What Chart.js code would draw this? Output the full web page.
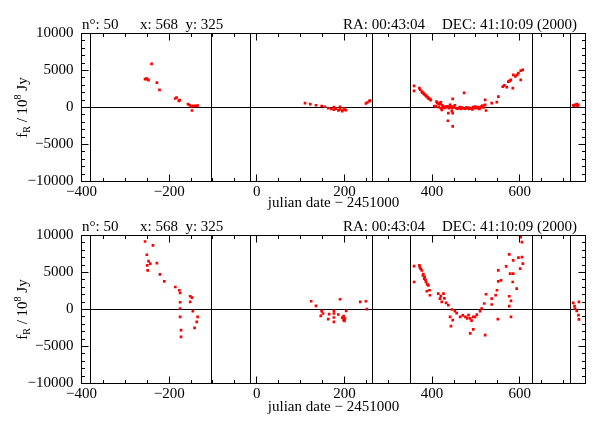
<!DOCTYPE html>
<html><head><meta charset="utf-8">
<script src="https://cdn.jsdelivr.net/npm/chart.js@4"></script>
<style>
html,body{margin:0;padding:0;background:#fff;}
#wrap{position:relative;width:606px;height:424px;}
canvas{position:absolute;left:0;}
</style></head><body>
<div id="wrap">
<canvas id="cTop" width="606" height="212" style="top:0"></canvas>
<canvas id="cBot" width="606" height="222" style="top:202px"></canvas>
</div>
<script>
// ---------- data ----------
const titleLeft1 = "n°: 50";
const titleLeft2 = "x: 568  y: 325";
const titleRight1 = "RA: 00:43:04";
const titleRight2 = "DEC: 41:10:09 (2000)";
const xAxisTitle = "julian date − 2451000";

const xTickLabels = [-400, -200, 0, 200, 400, 600];
const yTickLabels = [-10000, -5000, 0, 5000, 10000];
const seasonLines = [-379, -103, -14, 263, 351, 628, 716];

// top panel
const topJD = [
 -255,-252,-250,-247,-240,-228,-222,-186,-183,-178,-176,-157,-150,-145,-141,-137,-135,-148,-153,
 110,122,135,148,155,163,170,176,180,186,190,195,198,200,203,176,190,
 249,252,257,258.5,
 359,359,371,373,376.5,378,380,382,384,386,388,390,391.5,393,395.4,397,
 410,412,414.3,416,418.2,420,422.1,423,425,
 405,408,415,420,425,428,430,433,437,438,440,441,443,445,446,447,448.6,450,452,455,458,
 462,463.8,466,468,470,473,475,478,479,482,484,485,488,490.5,492,494,496,498,500,502,504,506,508,509.5,512,513,515,517,
 521,521,523,
 437,447,436,447,
 536,547.6,551.2,561.3,565,570.4,574,577,579.5,584.1,585.4,590,594,596.9,602.3,602.3,606.9,
 722,724,726,728,730,732,733.7
];
const topFlux = [
 3830,3900,3830,3690,5890,3370,2385,1213,1348,903,1000,458,135,229,200,229,270,-404,300,
 600,450,300,200,100,-100,-200,-300,-150,-400,-250,-500,-300,-100,-350,50,100,
 539,674,863,943,
 2925,2250,2615,2400,2156,2000,1940,1800,1712,1600,1482,1350,1267,1200,1132,1000,
 800,600,593,500,458,700,-310,300,200,
 200,150,50,-100,0,50,-50,150,135,-100,0,364,100,-445,-50,1172,135,0,300,-100,-150,
 -50,54,-200,0,-100,1981,-150,0,-81,0,-200,-150,-100,-81,-250,50,-50,135,-100,0,50,-100,-200,0,100,135,250,0,
 1038,364,-404,
 -755,-755,-1792,-2561,
 593,728,1482,2830,3000,2749,3504,3600,3733,2615,4407,4200,4400,4636,4987,3733,5081,
 300,250,364,300,458,200,364
];

// bottom panel
const botJD = [
 -255,-237,-251,-247,-243,-250,-228,-249,-221,-211,-186,-177,-175,-152,-148,-175,-152,-175,-146,-135,-137,-142,-175,-173,-173,
 124,135,190,148,151,146,163,165,176,176,176,176,186,198,201,200,204,198,195,200,236,249,251,
 359,359,371,372,374,376.5,379,380,382,383,385,386,388,389,391.5,394,395,
 414,418,420,422,426,428,432,437,445,441,447,443,452,456,
 464,470,476,480,483,487,490,494,487,494,498,502,
 509.5,513,519,523,
 536,536,545,548,550,551,551,557,521,
 569,576,576,576,578,580,580,584,585,585,593,597,601,602,605,605,607,
 722,726,730,735,734,735,725
];
const botFlux = [
 9193,8654,7402,6541,6191,5962,6272,5289,4751,3809,3042,2598,2234,1790,1615,983,1023,135,-229,-996,-1669,-2476,-996,-2786,-3688,
 1117,485,1386,-229,-538,-861,-1305,-633,-188,-538,-1077,-1669,-673,-902,-1211,-1534,-188,-1440,-1100,-1300,1023,1117,40,
 5868,3715,5962,5700,5500,5289,4616,4800,4172,4400,4000,3715,2463,3400,3271,2598,1925,
 2153,1480,1800,1023,2153,1500,900,579,0,-996,-1440,-2248,-229,-500,
 -996,-800,-1000,-1200,-767,-1211,-1500,-996,-3230,-2692,-1000,-700,
 -229,135,808,2059,
 1480,673,1925,2598,-1305,5289,3809,3943,-3459,
 5828,7443,1790,444,4845,1157,-996,3715,6635,4845,2826,6999,5518,9771,9098,7079,6191,
 888,135,-188,1023,-767,-1346,444
];

// ---------- drawing ----------
const FONT = '"Liberation Serif", "Times New Roman", serif';
const FS = 15;

function fmt(v){ return String(v).replace('-', '\u2212'); }

const framePlugin = {
  id: 'frame',
  beforeDatasetsDraw(chart){
    const {ctx, chartArea:a, scales:{x, y}} = chart;
    ctx.save();
    ctx.strokeStyle = '#000'; ctx.lineWidth = 1;
    ctx.beginPath();
    const py0 = Math.floor(y.getPixelForValue(0)) + 0.5;
    ctx.moveTo(a.left, py0); ctx.lineTo(a.right, py0);
    seasonLines.forEach(d => {
      const px = Math.floor(x.getPixelForValue(d)) + 0.5;
      ctx.moveTo(px, a.top); ctx.lineTo(px, a.bottom);
    });
    ctx.stroke();
    ctx.restore();
  },
  afterDatasetsDraw(chart){
    const {ctx, chartArea:a, scales:{x, y}} = chart;
    ctx.save();
    ctx.strokeStyle = '#000'; ctx.lineWidth = 1;
    ctx.strokeRect(a.left, a.top, a.right - a.left, a.bottom - a.top);
    ctx.beginPath();
    for (let v = -400; v <= 750; v += 50) {
      const px = Math.floor(x.getPixelForValue(v)) + 0.5;
      const L = (v % 200 === 0) ? 7 : 3.5;
      ctx.moveTo(px, a.bottom); ctx.lineTo(px, a.bottom - L);
      ctx.moveTo(px, a.top); ctx.lineTo(px, a.top + L);
    }
    for (let v = -10000; v <= 10000; v += 1000) {
      const py = Math.floor(y.getPixelForValue(v)) + 0.5;
      const L = (v % 5000 === 0) ? 7 : 3.5;
      ctx.moveTo(a.left, py); ctx.lineTo(a.left + L, py);
      ctx.moveTo(a.right, py); ctx.lineTo(a.right - L, py);
    }
    ctx.stroke();

    // header texts
    ctx.fillStyle = '#000';
    ctx.font = FS + 'px ' + FONT;
    ctx.textBaseline = 'alphabetic';
    const by = a.top - 4.5;
    ctx.textAlign = 'left';
    ctx.fillText(titleLeft1, 82, by);
    ctx.fillText(titleLeft2, 140, by);
    ctx.fillText(titleRight1, 343, by);
    ctx.textAlign = 'right';
    ctx.fillText(titleRight2, 577, by);

    // y-axis title: f_R / 10^8 Jy
    const parts = [
      {t:'f', s:FS, dy:0},
      {t:'R', s:10, dy:3},
      {t:' / 10', s:FS, dy:0},
      {t:'8', s:10, dy:-6},
      {t:' Jy', s:FS, dy:0}
    ];
    let total = 0;
    parts.forEach(p => { ctx.font = p.s + 'px ' + FONT; p.w = ctx.measureText(p.t).width; total += p.w; });
    ctx.translate(27, (a.top + a.bottom) / 2);
    ctx.rotate(-Math.PI / 2);
    ctx.textAlign = 'left';
    let cx = -total / 2;
    parts.forEach(p => { ctx.font = p.s + 'px ' + FONT; ctx.fillText(p.t, cx, p.dy); cx += p.w; });
    ctx.restore();
  }
};

function makeChart(id, xs, ys, canvasH){
  const pts = xs.map((v, i) => ({x: v, y: ys[i]}));
  return new Chart(document.getElementById(id), {
    type: 'scatter',
    data: { datasets: [{
      data: pts,
      pointStyle: 'rect',
      pointRadius: 1.9,
      pointBackgroundColor: '#ff0000',
      pointBorderWidth: 0,
      borderWidth: 0
    }]},
    options: {
      responsive: false,
      devicePixelRatio: 1,
      animation: false,
      events: [],
      layout: { padding: { top: 33.5, right: 20.5, left: 0, bottom: 0 } },
      plugins: { legend: {display:false}, tooltip: {enabled:false}, title:{display:false} },
      scales: {
        x: {
          type: 'linear', min: -400, max: 750,
          grid: { display: false, drawTicks: false },
          border: { display: false },
          afterBuildTicks(s){ s.ticks = xTickLabels.map(v => ({value: v})); },
          ticks: { autoSkip: false, maxRotation: 0, color: '#000', padding: 2,
                   font: { family: FONT, size: FS }, callback: v => fmt(v) },
          title: { display: true, text: xAxisTitle, color: '#000',
                   font: { family: FONT, size: FS }, padding: { top: 0, bottom: canvasH === 212 ? 0 : 8 } },
          afterFit(s){ s.height = canvasH - 181.5; }
        },
        y: {
          type: 'linear', min: -10000, max: 10000,
          grid: { display: false, drawTicks: false },
          border: { display: false },
          afterBuildTicks(s){ s.ticks = yTickLabels.map(v => ({value: v})); },
          ticks: { color: '#000', padding: 8, font: { family: FONT, size: FS }, callback: v => fmt(v) },
          afterFit(s){ s.width = 81.5; }
        }
      }
    },
    plugins: [framePlugin]
  });
}

makeChart('cTop', topJD, topFlux, 212);
makeChart('cBot', botJD, botFlux, 222);
</script>
</body></html>
